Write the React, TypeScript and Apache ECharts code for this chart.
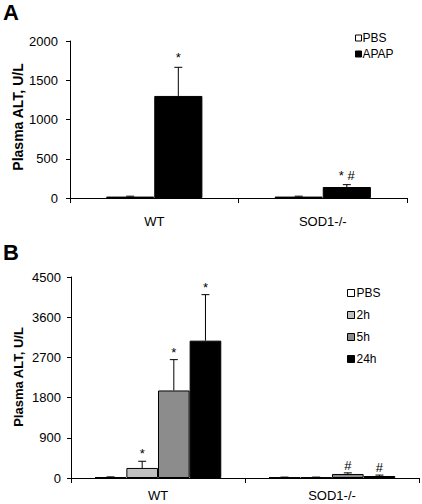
import React, { useEffect, useRef } from "react";
import * as echarts from "echarts";

const categories = ["WT", "SOD1-/-"];

// Panel A
const seriesNamesA = ["PBS", "APAP"];
const valuesA_PBS = [18, 18];
const valuesA_APAP = [1300, 140];
const errA_PBS = [5, 5];
const errA_APAP = [365, 30];
const annotA_PBS = ["", ""];
const annotA_APAP = ["*", "* #"];
const colorsA = ["#ffffff", "#000000"];
const ticksA = { min: 0, max: 2000, interval: 500 };

// Panel B
const seriesNamesB = ["PBS", "2h", "5h", "24h"];
const valuesB_PBS = [20, 15];
const valuesB_2h = [225, 15];
const valuesB_5h = [1960, 90];
const valuesB_24h = [3075, 45];
const errB_PBS = [5, 5];
const errB_2h = [150, 5];
const errB_5h = [690, 25];
const errB_24h = [1030, 20];
const annotB_PBS = ["", ""];
const annotB_2h = ["*", ""];
const annotB_5h = ["*", "#"];
const annotB_24h = ["*", "#"];
const colorsB = ["#ffffff", "#c0c0c0", "#8c8c8c", "#000000"];
const ticksB = { min: 0, max: 4500, interval: 900 };

const FONT = "'Liberation Sans', Arial, sans-serif";

function errorSeries(gridIdx: number, k: number, n: number, frac: number, vals: number[], errs: number[], annots: string[], textGap: number) {
  return {
    type: "custom",
    xAxisIndex: gridIdx,
    yAxisIndex: gridIdx,
    z: 10,
    silent: true,
    encode: { x: 0, y: 1 },
    data: vals.map((v, i) => [i, v, errs[i]]),
    renderItem: (params: any, api: any) => {
      const ci = api.value(0);
      const v = api.value(1);
      const e = api.value(2);
      const p0 = api.coord([ci, v]);
      const p1 = api.coord([ci, v + e]);
      const band = api.size([1, 0])[0];
      const bw = band * frac;
      const x = p0[0] + (k - (n - 1) / 2) * bw;
      const children: any[] = [
        { type: "line", shape: { x1: x, y1: p0[1], x2: x, y2: p1[1] }, style: { stroke: "#000", lineWidth: 1 } },
        { type: "line", shape: { x1: x - 4, y1: p1[1], x2: x + 4, y2: p1[1] }, style: { stroke: "#000", lineWidth: 1 } },
      ];
      const t = annots[params.dataIndex];
      if (t) {
        children.push({
          type: "text",
          style: { text: t, x: x, y: p1[1] - textGap, align: "center", verticalAlign: "bottom", fontSize: 13, fontFamily: FONT, fill: "#000" },
        });
      }
      return { type: "group", children };
    },
  };
}

export default function App() {
  const ref = useRef<HTMLDivElement>(null);
  useEffect(() => {
    const chart = echarts.init(ref.current!, null, { renderer: "svg" });
    const fracA = 1 / 3.5;
    const fracB = 1 / 5.5;
    const valsA = [valuesA_PBS, valuesA_APAP];
    const errsA = [errA_PBS, errA_APAP];
    const annA = [annotA_PBS, annotA_APAP];
    const valsB = [valuesB_PBS, valuesB_2h, valuesB_5h, valuesB_24h];
    const errsB = [errB_PBS, errB_2h, errB_5h, errB_24h];
    const annB = [annotB_PBS, annotB_2h, annotB_5h, annotB_24h];

    const axisCommonX = {
      type: "category",
      data: categories,
      axisLine: { lineStyle: { color: "#000", width: 1 } },
      axisTick: { show: true, length: 5, lineStyle: { color: "#000" } },
      axisLabel: { color: "#000", fontSize: 13, fontFamily: FONT },
    };
    const axisCommonY = {
      type: "value",
      axisLine: { show: true, lineStyle: { color: "#000", width: 1 } },
      axisTick: { show: true, length: 4, lineStyle: { color: "#000" } },
      splitLine: { show: false },
      axisLabel: { color: "#000", fontSize: 13, fontFamily: FONT, formatter: (v: number) => String(v) },
    };

    const series: any[] = [];
    seriesNamesA.forEach((name, k) => {
      series.push({
        type: "bar",
        name,
        xAxisIndex: 0,
        yAxisIndex: 0,
        data: valsA[k],
        barWidth: (fracA * 100).toFixed(3) + "%",
        barGap: "0%",
        itemStyle: { color: colorsA[k], borderColor: "#000", borderWidth: 1 },
      });
    });
    seriesNamesA.forEach((name, k) => {
      series.push(errorSeries(0, k, seriesNamesA.length, fracA, valsA[k], errsA[k], annA[k], 3));
    });
    seriesNamesB.forEach((name, k) => {
      series.push({
        type: "bar",
        name,
        xAxisIndex: 1,
        yAxisIndex: 1,
        data: valsB[k],
        barWidth: (fracB * 100).toFixed(3) + "%",
        barGap: "0%",
        itemStyle: { color: colorsB[k], borderColor: "#000", borderWidth: 1 },
      });
    });
    seriesNamesB.forEach((name, k) => {
      series.push(errorSeries(1, k, seriesNamesB.length, fracB, valsB[k], errsB[k], annB[k], 1));
    });

    chart.setOption({
      animation: false,
      textStyle: { fontFamily: FONT },
      grid: [
        { left: 70, top: 41, width: 337, height: 157 },
        { left: 71, top: 277, width: 348, height: 201 },
      ],
      xAxis: [
        { ...axisCommonX, gridIndex: 0, axisLabel: { ...axisCommonX.axisLabel, margin: 17 } },
        { ...axisCommonX, gridIndex: 1, axisLabel: { ...axisCommonX.axisLabel, margin: 11 } },
      ],
      yAxis: [
        { ...axisCommonY, gridIndex: 0, ...ticksA, axisLabel: { ...axisCommonY.axisLabel, margin: 12 } },
        { ...axisCommonY, gridIndex: 1, ...ticksB, axisLabel: { ...axisCommonY.axisLabel, margin: 10 } },
      ],
      legend: [
        {
          data: seriesNamesA,
          orient: "vertical",
          left: 350,
          top: 27,
          icon: "rect",
          itemWidth: 6,
          itemHeight: 6,
          itemGap: 4,
          selectedMode: false,
          itemStyle: { borderColor: "#000", borderWidth: 1 },
          textStyle: { fontSize: 12, fontFamily: FONT, color: "#000", padding: [0, 0, 0, -4] },
        },
        {
          data: seriesNamesB,
          orient: "vertical",
          left: 342,
          top: 282,
          icon: "rect",
          itemWidth: 7,
          itemHeight: 7,
          itemGap: 10,
          selectedMode: false,
          itemStyle: { borderColor: "#000", borderWidth: 1 },
          textStyle: { fontSize: 12, fontFamily: FONT, color: "#000", padding: [0, 0, 0, -3] },
        },
      ],
      graphic: [
        { type: "text", left: 3, top: 1, style: { text: "A", fontSize: 22, fontWeight: "bold", fontFamily: FONT, fill: "#000" } },
        { type: "text", left: 3, top: 241, style: { text: "B", fontSize: 22, fontWeight: "bold", fontFamily: FONT, fill: "#000" } },
        {
          type: "text",
          x: 18,
          y: 117,
          rotation: Math.PI / 2,
          style: { text: "Plasma ALT, U/L", fontSize: 14, fontWeight: "bold", fontFamily: FONT, fill: "#000", align: "center", verticalAlign: "middle" },
        },
        {
          type: "text",
          x: 18,
          y: 377,
          rotation: Math.PI / 2,
          style: { text: "Plasma ALT, U/L", fontSize: 13, fontWeight: "bold", fontFamily: FONT, fill: "#000", align: "center", verticalAlign: "middle" },
        },
      ],
      series,
    });
    return () => chart.dispose();
  }, []);
  return <div ref={ref} style={{ position: "fixed", left: 0, top: 0, width: 422, height: 504, background: "#fff" }} />;
}
